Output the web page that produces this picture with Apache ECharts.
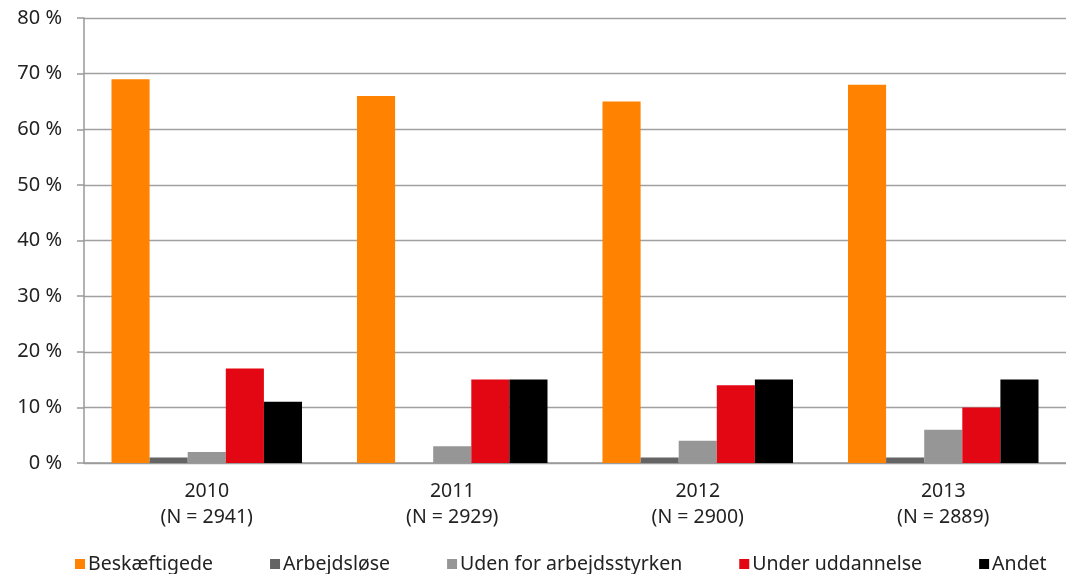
<!DOCTYPE html>
<html><head><meta charset="utf-8">
<script src="https://cdn.jsdelivr.net/npm/echarts@6/dist/echarts.min.js"></script>
<style>html,body{margin:0;padding:0;background:#fff}#c{width:1066px;height:574px}</style>
</head><body><div id="c"></div>
<script>
const categories = ['2010\n(N = 2941)', '2011\n(N = 2929)', '2012\n(N = 2900)', '2013\n(N = 2889)'];
const seriesNames = ['Beskæftigede', 'Arbejdsløse', 'Uden for arbejdsstyrken', 'Under uddannelse', 'Andet'];
const beskaeftigede = [69, 66, 65, 68];
const arbejdsloese = [1, 0, 1, 1];
const udenFor = [2, 3, 4, 6];
const underUddannelse = [17, 15, 14, 10];
const andet = [11, 15, 15, 15];
const colors = ['#FF8200', '#646464', '#969696', '#E30613', '#000000'];
const values = [beskaeftigede, arbejdsloese, udenFor, underUddannelse, andet];

const font = '"Noto Sans", sans-serif';
const chart = echarts.init(document.getElementById('c'));
chart.setOption({
  animation: false,
  color: colors,
  grid: {left: 84, right: 0, top: 18, bottom: 111},
  legend: {
    top: 554, left: 75, itemWidth: 10, itemHeight: 10, itemGap: 57,
    icon: 'rect', padding: 0,
    textStyle: {fontFamily: font, fontSize: 19.5, color: '#222', padding: [0, 0, 0, -2]},
    data: seriesNames
  },
  xAxis: {
    type: 'category', data: categories,
    axisLine: {lineStyle: {color: '#999', width: 1.5}},
    axisTick: {length: 7, lineStyle: {color: '#999', width: 1.5}},
    axisLabel: {fontFamily: font, fontSize: 19.5, color: '#222', lineHeight: 26, margin: 15}
  },
  yAxis: {
    type: 'value', min: 0, max: 80, interval: 10,
    axisLine: {show: true, lineStyle: {color: '#999', width: 1.5}},
    axisTick: {show: true, length: 7, lineStyle: {color: '#999', width: 1.5}},
    splitLine: {lineStyle: {color: '#a0a0a0', width: 1.4}},
    axisLabel: {fontFamily: font, fontSize: 20, color: '#222', margin: 22, formatter: '{value} %'}
  },
  series: seriesNames.map((n, i) => ({
    name: n, type: 'bar', data: values[i],
    barGap: '0%', barCategoryGap: '22.4%',
    itemStyle: {color: colors[i]}
  }))
});
</script></body></html>
